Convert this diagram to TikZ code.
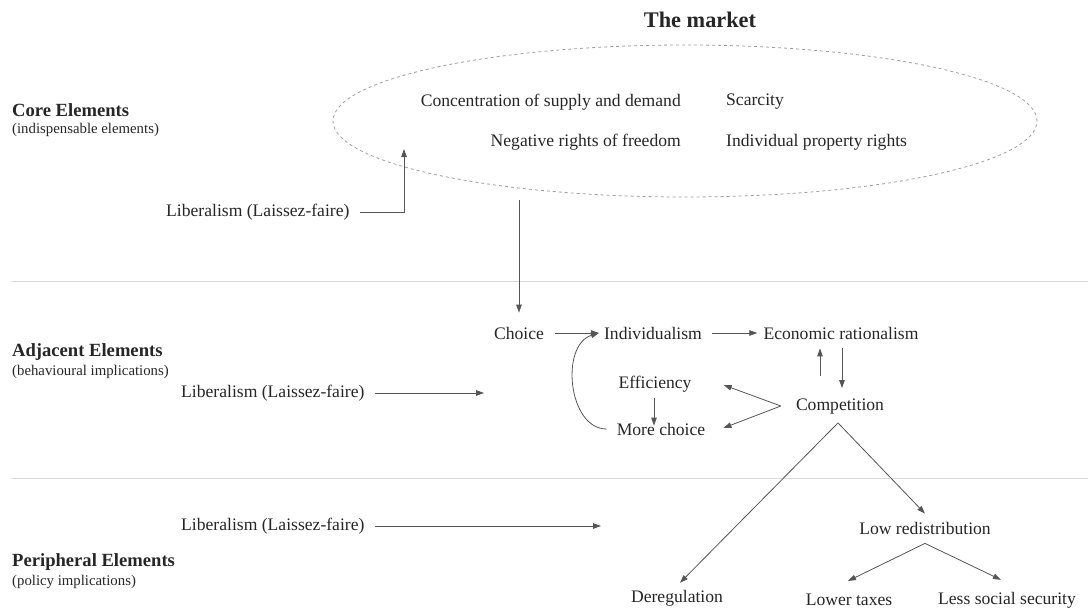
\documentclass[tikz,border=0pt]{standalone}
\usepackage{fontspec}
\setmainfont{Liberation Serif}
\usetikzlibrary{arrows.meta,shapes.geometric,calc}
\definecolor{txt}{HTML}{262626}
\definecolor{arrc}{HTML}{555555}
\begin{document}
\begin{tikzpicture}[x=1pt,y=-1pt,
  lbl/.style={font=\fontsize{17.6}{20}\selectfont, text=txt, inner sep=2pt},
  ttl/.style={font=\bfseries\fontsize{18.6}{21}\selectfont, text=txt, anchor=west, inner sep=0pt},
  sub/.style={font=\fontsize{14.8}{17}\selectfont, text=txt, anchor=west, inner sep=0pt},
  arr/.style={draw=arrc, line width=0.8pt, -{Triangle[length=8pt,width=5.5pt]}},
  sep/.style={draw=gray!30, line width=1pt}]
\useasboundingbox (0,0) rectangle (1088,613);

% title and ellipse
\node[font=\bfseries\fontsize{22.3}{25}\selectfont, text=txt] (market) at (700,20) {The market};
\node[ellipse, draw=gray!75, dashed, line width=0.8pt, minimum width=704pt, minimum height=152pt] (ell) at (685,121) {};
\node[lbl, anchor=east] (conc) at (683,102) {Concentration of supply and demand};
\node[lbl, anchor=west] (scar) at (724,102) {Scarcity};
\node[lbl, anchor=east] (neg) at (683,142) {Negative rights of freedom};
\node[lbl, anchor=west] (ipr) at (724,142) {Individual property rights};

% row titles
\node[ttl] (core) at (12,110) {Core Elements};
\node[sub] (coresub) at (12,130) {(indispensable elements)};
\node[ttl] (adj) at (12,352) {Adjacent Elements};
\node[sub] (adjsub) at (12,372) {(behavioural implications)};
\node[ttl] (per) at (12,562) {Peripheral Elements};
\node[sub] (persub) at (12,582) {(policy implications)};

% separators
\coordinate (s1a) at (12,281); \coordinate (s1b) at (1088,281);
\coordinate (s2a) at (12,478); \coordinate (s2b) at (1088,478);
\draw[sep] (s1a) -- (s1b);
\draw[sep] (s2a) -- (s2b);

% liberalism
\node[lbl, anchor=west] (lib1) at (164,212) {Liberalism (Laissez-faire)};
\node[lbl, anchor=west] (lib2) at (179,393) {Liberalism (Laissez-faire)};
\node[lbl, anchor=west] (lib3) at (179,526) {Liberalism (Laissez-faire)};
\coordinate (t1) at (404,149);
\coordinate (t2) at (484,393);
\coordinate (t3) at (601,526);
\draw[arr] ($(lib1.east)+(8,0)$) -| (t1);
\draw[arr] ($(lib2.east)+(8,0)$) -- (t2);
\draw[arr] ($(lib3.east)+(8,0)$) -- (t3);

% adjacent
\node[lbl] (choice) at (519,333) {Choice};
\node[lbl] (indiv) at (653,333) {Individualism};
\node[lbl] (econ) at (841,333) {Economic rationalism};
\node[lbl] (eff) at (655,384) {Efficiency};
\node[lbl] (more) at (661,429) {More choice};
\node[lbl] (comp) at (840,407) {Competition};

\draw[arr] ($(choice.north |- ell.south)+(0,3)$) -- ($(choice.north)+(0,-12)$);
\draw[arr, shorten <=9pt, shorten >=3pt] (choice.east) -- (indiv.west);
\draw[arr, shorten <=8pt, shorten >=4pt] (indiv.east) -- (econ.west);
\draw[arr] ($(comp.north)+(-20,-21)$) -- ($(econ.south)+(-21,7)$);
\draw[arr] ($(econ.south)+(1,7)$) -- ($(comp.north)+(2,-9)$);
\draw[arr] ($(comp.west)+(-13,-1)$) -- ($(eff.east)+(30,1)$);
\draw[arr] ($(comp.west)+(-13,-1)$) -- ($(more.east)+(16,-1)$);
\draw[arr] ($(eff.south)+(-1,4)$) -- ($(more.north)+(-7,5)$);
\draw[arr] ($(more.west)+(-8,0)$) .. controls (568,429) and (560,345) .. ($(indiv.west)+(-3,0)$);

% peripheral
\node[lbl] (dereg) at (677,598) {Deregulation};
\node[lbl] (lowred) at (925,528) {Low redistribution};
\node[lbl] (lowtax) at (849,600) {Lower taxes};
\node[lbl] (lesssoc) at (1007,600) {Less social security};

\draw[arr] ($(comp.south)+(-2,6)$) -- ($(dereg.north)+(3,-5)$);
\draw[arr] ($(comp.south)+(-2,6)$) -- ($(lowred.north)+(0,-6)$);
\draw[arr] ($(lowred.south)+(0,7)$) -- ($(lowtax.north)+(-1,-11)$);
\draw[arr] ($(lowred.south)+(0,7)$) -- ($(lesssoc.north)+(-6,-10)$);
\end{tikzpicture}
\end{document}
